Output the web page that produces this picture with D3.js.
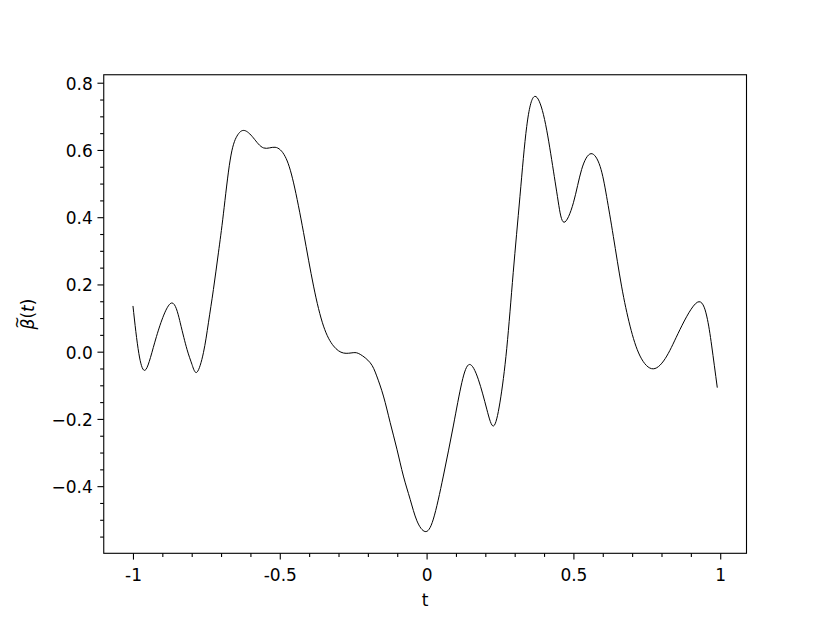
<!DOCTYPE html>
<html><head><meta charset="utf-8">
<script src="https://cdn.jsdelivr.net/npm/d3@7"></script>
<style>
body{margin:0;background:#fff}
text{font-family:"DejaVu Sans",sans-serif;fill:#000}
</style></head>
<body><svg id="c" width="830" height="623"></svg>
<script>
// ---- data ----
const tValues = [-1.00,-0.98,-0.956,-0.92,-0.871,-0.839,-0.816,-0.799,-0.782,-0.760,-0.743,-0.726,-0.709,-0.692,-0.669,-0.646,-0.621,-0.590,-0.555,-0.516,-0.482,-0.453,-0.419,-0.385,-0.351,-0.317,-0.283,-0.25,-0.226,-0.192,-0.170,-0.147,-0.124,-0.101,-0.079,-0.056,-0.033,-0.005,0.023,0.057,0.091,0.120,0.146,0.176,0.205,0.228,0.250,0.273,0.295,0.318,0.341,0.367,0.398,0.426,0.448,0.468,0.500,0.528,0.560,0.591,0.613,0.636,0.664,0.693,0.727,0.772,0.818,0.863,0.922,0.954,0.971,0.990];
const betaValues = [0.136,-0.005,-0.053,0.045,0.144,0.086,0.007,-0.038,-0.061,-0.003,0.086,0.185,0.294,0.41,0.57,0.641,0.658,0.636,0.606,0.608,0.581,0.502,0.354,0.195,0.076,0.017,-0.004,-0.003,-0.008,-0.033,-0.072,-0.132,-0.211,-0.290,-0.370,-0.439,-0.503,-0.535,-0.498,-0.370,-0.221,-0.092,-0.038,-0.082,-0.171,-0.221,-0.150,0.010,0.235,0.462,0.670,0.759,0.705,0.571,0.448,0.385,0.443,0.542,0.589,0.551,0.462,0.343,0.195,0.076,-0.013,-0.051,-0.013,0.066,0.147,0.106,0.017,-0.107];
const xMajorTicks = [-1,-0.5,0,0.5,1];
const xTickLabels = ["-1","-0.5","0","0.5","1"];
const xMinorTicks = [-0.9,-0.8,-0.7,-0.6,-0.4,-0.3,-0.2,-0.1,0.1,0.2,0.3,0.4,0.6,0.7,0.8,0.9];
const yMajorTicks = [-0.4,-0.2,0.0,0.2,0.4,0.6,0.8];
const yMinorTicks = [-0.55,-0.5,-0.45,-0.35,-0.3,-0.25,-0.15,-0.1,-0.05,0.05,0.1,0.15,0.25,0.3,0.35,0.45,0.5,0.55,0.65,0.7,0.75];
const xLabel = "t";

// ---- layout ----
const L = 103.75, R = 746.5, T = 74.75, B = 553.3;
const FS = 17;
const svg = d3.select("#c");
const xDom = [d3.min(tValues), d3.max(tValues)];
const yDom = [d3.min(betaValues), d3.max(betaValues)];
const xm = (xDom[1]-xDom[0])*0.05, ym = (yDom[1]-yDom[0])*0.05;
const x = d3.scaleLinear().domain([xDom[0]-xm, xDom[1]+xm]).range([L, R]);
const y = d3.scaleLinear().domain([yDom[0]-ym, yDom[1]+ym]).range([B, T]);

const data = tValues.map((t,i)=>({t, v: betaValues[i]}));
svg.append("path").datum(data)
  .attr("fill","none").attr("stroke","#000").attr("stroke-width",1)
  .attr("d", d3.line().x(d=>x(d.t)).y(d=>y(d.v)).curve(d3.curveNatural));

// axes
const fmtY = d => (d<0?"\u2212":"") + Math.abs(d).toFixed(1);
const gy = svg.append("g").attr("transform",`translate(${L},0)`)
  .call(d3.axisLeft(y).tickValues(yMajorTicks).tickSize(6.3).tickFormat(fmtY));
const gyMin = svg.append("g").attr("transform",`translate(${L},0)`)
  .call(d3.axisLeft(y).tickValues(yMinorTicks).tickSize(3.6).tickFormat(""));
const gx = svg.append("g").attr("transform",`translate(0,${B})`)
  .call(d3.axisBottom(x).tickValues(xMajorTicks).tickSize(6.3).tickFormat((d,i)=>xTickLabels[i]));
const gxMin = svg.append("g").attr("transform",`translate(0,${B})`)
  .call(d3.axisBottom(x).tickValues(xMinorTicks).tickSize(3.6).tickFormat(""));
[gy,gyMin,gx,gxMin].forEach(g=>{
  g.select(".domain").remove();
  g.selectAll("line").attr("stroke","#000").attr("stroke-width",1.1);
  g.selectAll("text").attr("font-family","DejaVu Sans").attr("font-size",FS).attr("fill","#000");
});
gy.selectAll("text").attr("x", -11).attr("dy", null).attr("y", 6.4).attr("text-anchor","end");
gx.selectAll("text").attr("dy", null).attr("y", 27.4);

// frame
svg.append("rect").attr("x",L).attr("y",T).attr("width",R-L).attr("height",B-T)
  .attr("fill","none").attr("stroke","#000").attr("stroke-width",1.1);

// x label
svg.append("text").attr("x",(L+R)/2).attr("y",606).attr("text-anchor","middle")
  .attr("font-size",FS).text(xLabel);

// y label  beta-tilde(t)
const gl = svg.append("g").attr("transform",`translate(34,${(T+B)/2}) rotate(-90)`);
const yl = gl.append("text").attr("text-anchor","middle").attr("font-size",FS);
yl.append("tspan").attr("font-style","italic").text("\u03B2");
yl.append("tspan").text("(");
yl.append("tspan").attr("font-style","italic").text("t");
yl.append("tspan").text(")");
const ext = yl.node().getExtentOfChar(0);
gl.append("text").attr("x", ext.x + ext.width/2 + 1.5).attr("y", ext.y + 4)
  .attr("text-anchor","middle").attr("font-size",15).text("~");
</script></body></html>
